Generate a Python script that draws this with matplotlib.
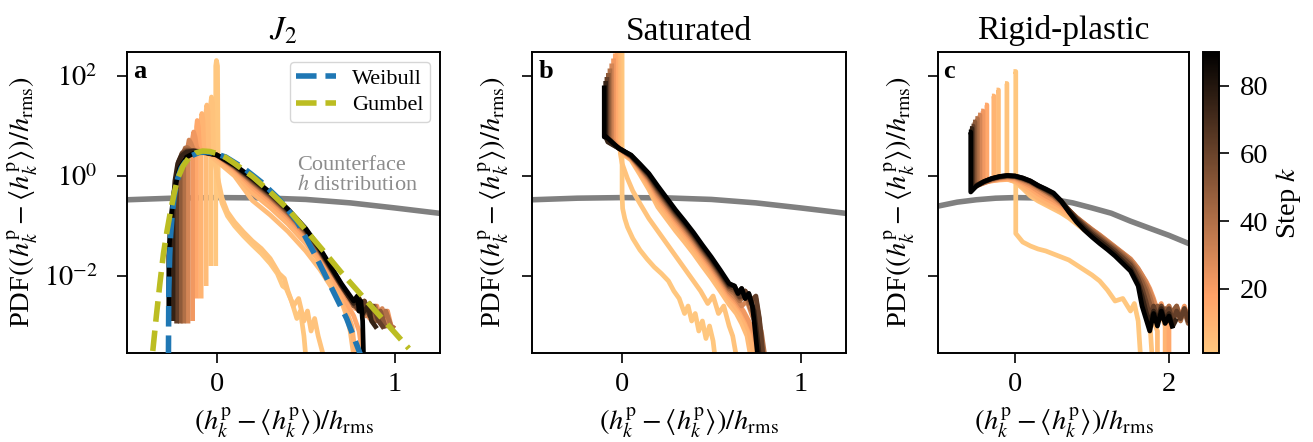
import numpy as np
import matplotlib
matplotlib.use("Agg")
import matplotlib.pyplot as plt
from matplotlib import colors as mcolors
from matplotlib.cm import ScalarMappable
from matplotlib.ticker import FixedLocator, NullLocator, FixedFormatter

plt.rcParams['font.family'] = ['Liberation Serif', 'DejaVu Serif']
plt.rcParams['mathtext.fontset'] = 'stix'

# ---------------- data (x in units of h_rms, y = log10 PDF) ----------------
STEP_MIN, STEP_MAX = 1, 90
titles = [r"$J_2$", "Saturated", "Rigid-plastic"]
panel_letters = ["a", "b", "c"]

counterface_x = [-1.0, -0.75, -0.5, -0.25, 0.0, 0.25, 0.5, 0.75, 1.0, 1.25, 1.5, 1.75, 2.0, 2.25]
counterface_pdf = [0.25, 0.30, 0.335, 0.36, 0.37, 0.365, 0.34, 0.29, 0.23, 0.18, 0.125, 0.09, 0.065, 0.045]

weibull_x = [-0.272, -0.27, -0.265, -0.26, -0.25, -0.24, -0.22, -0.2, -0.17, -0.14, -0.1, -0.06, -0.02,
             0.05, 0.15, 0.25, 0.35, 0.45, 0.55, 0.64, 0.73, 0.8, 0.81]
weibull_logpdf = [-3.6, -2.3, -1.6, -1.2, -0.75, -0.42, -0.05, 0.16, 0.32, 0.41, 0.47, 0.48, 0.46,
                  0.38, 0.16, -0.12, -0.46, -0.9, -1.56, -2.2, -2.85, -3.5, -3.6]
gumbel_x = [-0.36, -0.34, -0.32, -0.30, -0.28, -0.26, -0.24, -0.22, -0.19, -0.16, -0.12, -0.08, -0.04,
            0.0, 0.05, 0.1, 0.2, 0.3, 0.4, 0.5, 0.6, 0.7, 0.8, 0.9, 1.0, 1.08]
gumbel_logpdf = [-3.5, -2.8, -2.15, -1.55, -1.1, -0.7, -0.35, -0.05, 0.2, 0.35, 0.46, 0.5, 0.49,
                 0.45, 0.37, 0.25, -0.01, -0.32, -0.66, -1.08, -1.5, -1.93, -2.33, -2.73, -3.13, -3.45]

# ---- panel a (J2) ----
a_steps = [1, 3, 6, 10, 15, 22, 30, 40, 50, 62, 75, 90]
a_mid_x = [0.1, 0.2, 0.3, 0.4, 0.5, 0.58, 0.64, 0.7]
a01_x = [-0.006, -0.006, -0.002, 0.004, 0.008, 0.03, 0.06, 0.1, 0.15, 0.2, 0.25, 0.3, 0.34, 0.37, 0.39, 0.42, 0.45, 0.47, 0.49, 0.5]
a01_y = [-1.8, 2.2, 2.31, 2.2, -0.25, -0.55, -0.8, -1.0, -1.2, -1.38, -1.55, -1.75, -1.95, -2.2, -2.25, -2.5, -2.85, -2.7, -3.2, -3.6]
a03_x = [-0.034, -0.034, -0.03, -0.024, -0.02, -0.012, 0.0, 0.03, 0.06, 0.1, 0.15, 0.2, 0.25, 0.3, 0.35, 0.38, 0.4, 0.43, 0.46, 0.49, 0.51, 0.53, 0.55, 0.57, 0.6]
a03_y = [-1.8, 1.45, 1.58, 1.45, 0.5, 0.3, 0.05, -0.45, -0.72, -0.92, -1.12, -1.3, -1.45, -1.65, -1.95, -2.05, -2.3, -2.6, -2.45, -2.9, -2.7, -3.1, -2.85, -3.2, -3.6]
a06_x = [-0.06, -0.06, -0.056, -0.05, -0.046, -0.038, -0.02, 0.0] + a_mid_x + [0.73, 0.75, 0.77]
a06_y = [-2.2, 1.3, 1.42, 1.3, 0.55, 0.42, 0.36, 0.3, 0.0, -0.49, -0.78, -1.11, -1.5, -1.87, -2.2, -2.5, -2.8, -3.1, -3.6]
a10_x = [-0.088, -0.088, -0.084, -0.078, -0.074, -0.066, -0.03, 0.0] + a_mid_x + [0.73, 0.76, 0.78]
a10_y = [-2.45, 1.12, 1.25, 1.12, 0.6, 0.48, 0.42, 0.36, 0.07, -0.34, -0.63, -0.96, -1.35, -1.72, -2.05, -2.4, -2.7, -3.0, -3.6]
a15_x = [-0.114, -0.114, -0.11, -0.104, -0.098, -0.09, -0.05, 0.0] + a_mid_x + [0.74, 0.77, 0.8, 0.82]
a15_y = [-2.45, 0.98, 1.11, 0.98, 0.6, 0.5, 0.46, 0.4, 0.12, -0.24, -0.53, -0.86, -1.25, -1.62, -1.95, -2.3, -2.6, -2.8, -3.1, -3.6]
a22_x = [-0.136, -0.136, -0.13, -0.122, -0.114, -0.1, -0.06, 0.0] + a_mid_x + [0.74, 0.78, 0.82, 0.86, 0.9, 0.93, 0.96, 0.98, 1.0]
a22_y = [-2.9, 0.76, 0.88, 0.78, 0.58, 0.5, 0.47, 0.41, 0.15, -0.18, -0.47, -0.8, -1.19, -1.56, -1.9, -2.22, -2.45, -2.65, -2.55, -2.85, -2.6, -2.95, -2.7, -3.0, -3.05]
a30_x = [-0.162, -0.162, -0.156, -0.146, -0.134, -0.12, -0.08, 0.0] + a_mid_x + [0.74, 0.78, 0.81, 0.84, 0.87, 0.9, 0.93, 0.96, 0.99]
a30_y = [-2.95, 0.6, 0.72, 0.66, 0.55, 0.5, 0.48, 0.42, 0.17, -0.14, -0.43, -0.76, -1.15, -1.53, -1.87, -2.2, -2.45, -2.6, -2.5, -2.8, -2.6, -2.9, -2.65, -2.95, -3.05]
a40_x = [-0.186, -0.186, -0.178, -0.166, -0.15, -0.13, -0.1, 0.0] + a_mid_x + [0.74, 0.77, 0.8, 0.83, 0.86, 0.89, 0.92, 0.95, 0.98, 1.0]
a40_y = [-2.95, 0.42, 0.56, 0.57, 0.52, 0.49, 0.48, 0.42, 0.18, -0.12, -0.41, -0.74, -1.13, -1.52, -1.86, -2.2, -2.4, -2.55, -2.7, -2.5, -2.8, -2.6, -2.95, -2.7, -3.0, -3.05]
a50_x = [-0.206, -0.206, -0.196, -0.18, -0.16, -0.12, -0.06, 0.0] + a_mid_x + [0.74, 0.77, 0.8, 0.83, 0.86, 0.89, 0.92, 0.95]
a50_y = [-2.95, 0.25, 0.45, 0.52, 0.52, 0.5, 0.48, 0.42, 0.19, -0.1, -0.39, -0.72, -1.11, -1.5, -1.85, -2.2, -2.4, -2.6, -2.45, -2.75, -2.55, -2.9, -2.7, -3.05]
a62_x = [-0.226, -0.226, -0.214, -0.196, -0.17, -0.13, -0.08, 0.0] + a_mid_x + [0.74, 0.77, 0.8, 0.83, 0.86, 0.88, 0.91, 0.94]
a62_y = [-2.95, 0.0, 0.3, 0.45, 0.5, 0.5, 0.48, 0.42, 0.2, -0.08, -0.37, -0.7, -1.09, -1.49, -1.84, -2.19, -2.4, -2.55, -2.7, -2.5, -2.8, -2.6, -2.9, -3.05]
a75_x = [-0.246, -0.246, -0.236, -0.22, -0.2, -0.17, -0.13, -0.08, 0.0] + a_mid_x + [0.74, 0.77, 0.8, 0.82, 0.85, 0.87, 0.9]
a75_y = [-2.9, -0.6, -0.1, 0.25, 0.4, 0.48, 0.5, 0.48, 0.42, 0.21, -0.06, -0.35, -0.68, -1.07, -1.47, -1.82, -2.17, -2.4, -2.55, -2.45, -2.75, -2.6, -2.9, -3.05]
a90_x = [-0.27, -0.27, -0.26, -0.24, -0.21, -0.17, -0.12, -0.06, 0.0] + a_mid_x + [0.74, 0.77, 0.79, 0.80, 0.81, 0.82, 0.825]
a90_y = [-2.8, -1.6, -0.9, -0.3, 0.15, 0.38, 0.47, 0.47, 0.42, 0.22, -0.04, -0.33, -0.66, -1.05, -1.45, -1.8, -2.15, -2.35, -2.5, -2.4, -2.7, -2.5, -2.9, -3.6]

# ---- panel b (Saturated) ----
b_steps = [1, 3, 6, 10, 15, 22, 30, 40, 50, 62, 75, 90]
b_mid_x = [0.05, 0.1, 0.15, 0.2, 0.25, 0.3, 0.35, 0.4, 0.45, 0.5, 0.55, 0.6]
b01_x = [0.0, 0.0, 0.003, 0.015, 0.03, 0.06, 0.1, 0.14, 0.18, 0.22, 0.26, 0.29, 0.32, 0.35, 0.37, 0.39, 0.41, 0.43, 0.45, 0.47, 0.49, 0.51, 0.52]
b01_y = [2.6, -0.4, -0.65, -0.85, -1.02, -1.25, -1.48, -1.66, -1.82, -1.95, -2.1, -2.3, -2.45, -2.75, -2.6, -2.9, -2.75, -3.1, -2.9, -3.25, -3.0, -3.3, -3.6]
b03_x = [-0.01, -0.01, 0.0, 0.03, 0.06, 0.1, 0.15, 0.2, 0.25, 0.3, 0.35, 0.4, 0.44, 0.48, 0.51, 0.54, 0.57, 0.6, 0.62, 0.64]
b03_y = [2.6, 0.45, 0.25, -0.05, -0.3, -0.55, -0.85, -1.1, -1.35, -1.6, -1.85, -2.1, -2.3, -2.55, -2.4, -2.75, -2.6, -3.0, -3.2, -3.6]
b06_x = [-0.018, -0.018, -0.01, 0.0] + b_mid_x + [0.64, 0.67, 0.7, 0.72]
b06_y = [2.6, 0.6, 0.5, 0.45, 0.32, 0.03, -0.27, -0.62, -0.86, -1.1, -1.32, -1.55, -1.8, -2.04, -2.3, -2.57, -2.75, -2.95, -3.2, -3.6]
b10_x = [-0.028, -0.028, -0.015, 0.0] + b_mid_x + [0.64, 0.68, 0.71, 0.74]
b10_y = [2.6, 0.65, 0.55, 0.48, 0.34, 0.08, -0.19, -0.52, -0.76, -1.0, -1.22, -1.45, -1.7, -1.94, -2.2, -2.47, -2.65, -2.85, -3.1, -3.6]
b15_x = [-0.038, -0.038, -0.02, 0.0] + b_mid_x + [0.64, 0.68, 0.71, 0.74, 0.76]
b15_y = [2.45, 0.7, 0.58, 0.5, 0.36, 0.12, -0.14, -0.45, -0.69, -0.93, -1.15, -1.38, -1.63, -1.87, -2.13, -2.4, -2.55, -2.75, -2.95, -3.2, -3.6]
b22_x = [-0.048, -0.048, -0.03, 0.0] + b_mid_x + [0.64, 0.68, 0.71, 0.74, 0.77]
b22_y = [2.35, 0.72, 0.6, 0.5, 0.37, 0.14, -0.1, -0.4, -0.64, -0.88, -1.1, -1.33, -1.58, -1.82, -2.08, -2.35, -2.5, -2.7, -2.9, -3.15, -3.6]
b30_x = [-0.058, -0.058, -0.04, -0.01] + b_mid_x + [0.64, 0.67, 0.7, 0.73, 0.76, 0.78]
b30_y = [2.25, 0.74, 0.62, 0.53, 0.38, 0.16, -0.07, -0.36, -0.6, -0.84, -1.06, -1.29, -1.54, -1.78, -2.04, -2.31, -2.45, -2.6, -2.5, -2.8, -3.05, -3.6]
b40_x = [-0.068, -0.068, -0.05, -0.01] + b_mid_x + [0.63, 0.66, 0.69, 0.72, 0.75, 0.78, 0.8]
b40_y = [2.15, 0.76, 0.64, 0.54, 0.39, 0.18, -0.04, -0.32, -0.56, -0.8, -1.02, -1.25, -1.5, -1.74, -2.0, -2.27, -2.35, -2.5, -2.35, -2.65, -2.8, -3.1, -3.6]
b50_x = [-0.077, -0.077, -0.06, -0.015] + b_mid_x + [0.63, 0.66, 0.69, 0.72, 0.75, 0.77, 0.79]
b50_y = [2.06, 0.77, 0.66, 0.55, 0.4, 0.2, -0.02, -0.29, -0.53, -0.77, -0.99, -1.22, -1.47, -1.71, -1.97, -2.24, -2.3, -2.45, -2.3, -2.55, -2.45, -2.9, -3.6]
b62_x = [-0.085, -0.085, -0.07, -0.015] + b_mid_x + [0.63, 0.66, 0.69, 0.72, 0.75, 0.77, 0.79]
b62_y = [1.98, 0.78, 0.67, 0.55, 0.4, 0.21, 0.01, -0.26, -0.5, -0.74, -0.96, -1.19, -1.44, -1.68, -1.94, -2.21, -2.25, -2.42, -2.3, -2.5, -2.4, -2.85, -3.6]
b75_x = [-0.092, -0.092, -0.08, -0.017] + b_mid_x + [0.63, 0.65, 0.67, 0.69, 0.71, 0.74, 0.77]
b75_y = [1.9, 0.78, 0.68, 0.55, 0.41, 0.22, 0.03, -0.23, -0.47, -0.71, -0.93, -1.16, -1.41, -1.65, -1.91, -2.18, -2.2, -2.35, -2.25, -2.45, -2.35, -2.7, -3.6]
b90_x = [-0.1, -0.1, -0.088, -0.017] + b_mid_x + [0.63, 0.65, 0.67, 0.69, 0.71, 0.73, 0.74, 0.76]
b90_y = [1.81, 0.78, 0.78, 0.55, 0.42, 0.24, 0.05, -0.2, -0.44, -0.68, -0.9, -1.13, -1.38, -1.62, -1.88, -2.15, -2.2, -2.35, -2.25, -2.45, -2.35, -2.6, -2.9, -3.6]

# ---- panel c (Rigid-plastic) ----
c_steps = [1, 3, 6, 10, 15, 22, 30, 40, 50, 62, 75, 90]
c_mid_x = [0.1, 0.2, 0.3, 0.4, 0.5, 0.6, 0.7, 0.8, 0.9, 1.0, 1.1, 1.2, 1.3, 1.4, 1.5]
c_tail_long_x = [1.55, 1.6, 1.65, 1.7, 1.75, 1.8, 1.85, 1.9, 1.95, 2.0, 2.05, 2.1, 2.15, 2.2, 2.25, 2.3]

c01_x = [-0.02, 0.01, 0.01] + c_mid_x + [1.55, 1.6, 1.63]
c01_y = [2.09, 2.09, -1.15, -1.32, -1.4, -1.46, -1.5, -1.56, -1.62, -1.68, -1.78, -1.88, -1.98, -2.1, -2.28, -2.5, -2.45, -2.7, -2.55, -2.9, -3.6]
c03_x = [-0.13, -0.105, -0.105, 0.0] + c_mid_x + [1.55, 1.6, 1.65, 1.7, 1.75, 1.78]
c03_y = [1.85, 1.85, -0.05, -0.12, -0.25, -0.4, -0.5, -0.58, -0.66, -0.74, -0.84, -0.96, -1.08, -1.2, -1.32, -1.45, -1.58, -1.72, -1.86, -2.0, -2.15, -2.35, -2.6, -2.9, -3.6]
c06_x = [-0.24, -0.215, -0.215, -0.1, 0.0] + c_mid_x + [1.55, 1.6, 1.65, 1.7, 1.75, 1.8, 1.85, 1.85]
c06_y = [1.72, 1.72, -0.07, -0.06, -0.1, -0.22, -0.36, -0.46, -0.55, -0.62, -0.7, -0.8, -0.92, -1.05, -1.17, -1.29, -1.41, -1.54, -1.67, -1.8, -1.92, -2.05, -2.2, -2.4, -2.65, -2.9, -3.1, -3.6]
c10_x = [-0.30, -0.275, -0.275, -0.2, -0.1, 0.0] + c_mid_x + [1.55, 1.6, 1.65, 1.7, 1.75, 1.8, 1.85, 1.9, 1.95, 1.95]
c10_y = [1.6, 1.6, -0.09, -0.08, -0.07, -0.1, -0.2, -0.32, -0.44, -0.52, -0.6, -0.68, -0.78, -0.9, -1.02, -1.14, -1.26, -1.38, -1.5, -1.62, -1.75, -1.85, -1.97, -2.1, -2.25, -2.45, -2.7, -2.9, -2.75, -3.0, -3.6]
c15_x = [-0.39, -0.365, -0.365, -0.3, -0.2, -0.1, 0.0] + c_mid_x + [1.55, 1.6, 1.65, 1.7, 1.75, 1.8, 1.85, 1.9, 1.95, 2.0, 2.0]
c15_y = [1.42, 1.42, -0.11, -0.1, -0.07, -0.05, -0.07, -0.15, -0.25, -0.36, -0.45, -0.53, -0.62, -0.73, -0.85, -0.97, -1.09, -1.2, -1.32, -1.44, -1.56, -1.68, -1.78, -1.9, -2.02, -2.15, -2.3, -2.5, -2.75, -2.6, -2.9, -3.0, -3.6]
c22_x = [-0.44, -0.415, -0.415, -0.3, -0.2, -0.1, 0.0] + c_mid_x + c_tail_long_x
c22_y = [1.3, 1.3, -0.14, -0.09, -0.05, -0.03, -0.05, -0.12, -0.2, -0.3, -0.4, -0.48, -0.58, -0.7, -0.83, -0.95, -1.07, -1.18, -1.3, -1.42, -1.54, -1.66,
         -1.76, -1.86, -1.98, -2.1, -2.25, -2.45, -2.7, -2.55, -2.8, -2.6, -2.85, -2.65, -2.8, -2.6, -2.85, -2.7]
c30_x = [-0.48, -0.455, -0.455, -0.4, -0.3, -0.2, -0.1, 0.0] + c_mid_x + c_tail_long_x
c30_y = [1.22, 1.22, -0.17, -0.14, -0.08, -0.04, -0.02, -0.03, -0.09, -0.16, -0.25, -0.34, -0.43, -0.55, -0.69, -0.83, -0.95, -1.07, -1.18, -1.3, -1.42, -1.54, -1.66,
         -1.75, -1.85, -1.98, -2.12, -2.3, -2.5, -2.75, -2.6, -2.85, -2.65, -2.8, -2.6, -2.85, -2.7, -2.9, -2.75]
c40_x = [-0.515, -0.49, -0.49, -0.4, -0.3, -0.2, -0.1, 0.0] + c_mid_x + c_tail_long_x
c40_y = [1.15, 1.15, -0.19, -0.13, -0.07, -0.03, -0.01, -0.02, -0.07, -0.13, -0.22, -0.31, -0.4, -0.53, -0.68, -0.83, -0.96, -1.08, -1.2, -1.32, -1.44, -1.56, -1.7,
         -1.8, -1.92, -2.05, -2.2, -2.4, -2.65, -2.85, -2.6, -2.8, -2.6, -2.85, -2.7, -2.9, -2.65, -2.8, -2.7]
c50_x = [-0.545, -0.52, -0.52, -0.4, -0.3, -0.2, -0.1, 0.0] + c_mid_x + c_tail_long_x
c50_y = [1.08, 1.08, -0.22, -0.12, -0.06, -0.02, 0.0, -0.01, -0.06, -0.12, -0.21, -0.3, -0.39, -0.52, -0.68, -0.84, -0.98, -1.11, -1.23, -1.35, -1.47, -1.6, -1.74,
         -1.85, -1.98, -2.12, -2.3, -2.55, -2.8, -2.6, -2.85, -2.65, -2.9, -2.7, -2.6, -2.85, -2.7, -2.95, -2.8]
c62_x = [-0.565, -0.545, -0.545, -0.5, -0.4, -0.3, -0.2, -0.1, 0.0] + c_mid_x + c_tail_long_x
c62_y = [1.0, 1.0, -0.25, -0.18, -0.11, -0.05, -0.02, 0.0, -0.01, -0.05, -0.11, -0.2, -0.28, -0.37, -0.5, -0.68, -0.85, -1.0, -1.14, -1.26, -1.38, -1.5, -1.64, -1.78,
         -1.9, -2.05, -2.25, -2.5, -2.8, -2.6, -2.85, -2.6, -2.8, -2.65, -2.9, -2.7, -2.85, -2.65, -2.9, -2.75]
c75_x = [-0.585, -0.56, -0.56, -0.5, -0.4, -0.3, -0.2, -0.1, 0.0] + c_mid_x + [1.55, 1.6, 1.65, 1.7, 1.75, 1.8, 1.85, 1.9, 1.95, 2.0, 2.05, 2.1]
c75_y = [0.95, 0.95, -0.27, -0.19, -0.11, -0.05, -0.01, 0.01, 0.0, -0.04, -0.1, -0.19, -0.27, -0.35, -0.5, -0.7, -0.88, -1.04, -1.18, -1.3, -1.42, -1.55, -1.7, -1.85,
         -2.0, -2.15, -2.4, -2.7, -2.95, -2.7, -2.9, -2.65, -2.9, -2.75, -3.0, -2.85]
c90_x = [-0.60, -0.575, -0.575, -0.5, -0.4, -0.3, -0.2, -0.1, 0.0] + c_mid_x + [1.55, 1.6, 1.65, 1.7, 1.75, 1.8, 1.85, 1.9, 1.95, 2.0, 2.05]
c90_y = [0.88, 0.88, -0.32, -0.2, -0.11, -0.05, -0.01, 0.01, 0.0, -0.04, -0.1, -0.19, -0.26, -0.34, -0.5, -0.72, -0.92, -1.08, -1.22, -1.35, -1.47, -1.6, -1.75, -1.9,
         -2.05, -2.2, -2.6, -2.85, -3.1, -2.75, -3.0, -2.7, -2.95, -2.8, -3.05]

panel_curves = [
    (a_steps, [(a01_x, a01_y), (a03_x, a03_y), (a06_x, a06_y), (a10_x, a10_y), (a15_x, a15_y), (a22_x, a22_y),
               (a30_x, a30_y), (a40_x, a40_y), (a50_x, a50_y), (a62_x, a62_y), (a75_x, a75_y), (a90_x, a90_y)]),
    (b_steps, [(b01_x, b01_y), (b03_x, b03_y), (b06_x, b06_y), (b10_x, b10_y), (b15_x, b15_y), (b22_x, b22_y),
               (b30_x, b30_y), (b40_x, b40_y), (b50_x, b50_y), (b62_x, b62_y), (b75_x, b75_y), (b90_x, b90_y)]),
    (c_steps, [(c01_x, c01_y), (c03_x, c03_y), (c06_x, c06_y), (c10_x, c10_y), (c15_x, c15_y), (c22_x, c22_y),
               (c30_x, c30_y), (c40_x, c40_y), (c50_x, c50_y), (c62_x, c62_y), (c75_x, c75_y), (c90_x, c90_y)]),
]
xlims = [(-0.505, 1.255), (-0.505, 1.255), (-1.0, 2.26)]
xticks = [[0, 1], [0, 1], [0, 2]]

# ---------------- figure ----------------
W, H = 1313, 442
fig = plt.figure(figsize=(W / 100, H / 100), dpi=100)
ax_rects = [(127, 52, 440, 353), (532, 52, 846, 353), (938, 52, 1189, 353)]
cmap = plt.get_cmap('copper_r')
norm = mcolors.Normalize(vmin=STEP_MIN, vmax=STEP_MAX)

FS = 20.5
xlabel = r"$(h_k^\mathrm{p}-\langle h_k^\mathrm{p}\rangle)/h_\mathrm{rms}$"
ylabel = r"PDF$((h_k^\mathrm{p}-\langle h_k^\mathrm{p}\rangle)/h_\mathrm{rms})$"

for i, (x0, y0, x1, y1) in enumerate(ax_rects):
    ax = fig.add_axes([x0 / W, 1 - y1 / H, (x1 - x0) / W, (y1 - y0) / H])
    ax.set_yscale('log')
    ax.plot(counterface_x, counterface_pdf, color='#808080', lw=4, zorder=1)
    steps, curves = panel_curves[i]
    for k, (cx, cy) in zip(steps, curves):
        ax.plot(cx, 10 ** np.asarray(cy), color=cmap(norm(k)), lw=3.4, zorder=2,
                solid_joinstyle='round', solid_capstyle='butt')
    if i == 0:
        ax.plot(weibull_x, 10 ** np.asarray(weibull_logpdf), ls='--', color='#1f77b4', lw=4, zorder=3, label='Weibull')
        ax.plot(gumbel_x, 10 ** np.asarray(gumbel_logpdf), ls='--', color='#bcbd22', lw=4, zorder=4, label='Gumbel')
        ax.legend(loc='upper right', fontsize=16, framealpha=0.8, edgecolor='0.8',
                  handlelength=1.8, handletextpad=0.7, borderaxespad=0.45, borderpad=0.3,
                  labelspacing=0.25)
        ax.text(0.45, 1.0, "Counterface\n$h$ distribution", color='0.55', fontsize=16,
                ha='left', va='center', linespacing=1.0)
    ax.set_xlim(*xlims[i])
    ax.set_ylim(10 ** -3.54, 10 ** 2.48)
    ax.yaxis.set_major_locator(FixedLocator([1e-2, 1e0, 1e2]))
    ax.yaxis.set_minor_locator(NullLocator())
    ax.set_xticks(xticks[i])
    ax.set_xticklabels([str(t) for t in xticks[i]])
    ax.tick_params(direction='out', length=7, width=1.2, labelsize=FS)
    ax.tick_params(axis='x', pad=7)
    if i == 0:
        ax.yaxis.set_major_formatter(FixedFormatter([r"$10^{-2}$", r"$10^{0}$", r"$10^{2}$"]))
        ax.tick_params(axis='y', pad=14)
        ax.set_ylabel(ylabel, fontsize=FS, labelpad=3)
    else:
        ax.tick_params(axis='y', labelleft=False)
        ax.set_ylabel(ylabel, fontsize=FS, labelpad=8)
    for s in ax.spines.values():
        s.set_linewidth(1.4)
    ax.set_xlabel(xlabel, fontsize=FS, labelpad=6)
    ax.set_title(titles[i], fontsize=24, pad=9)
    ax.text(0.02, 0.975, panel_letters[i], transform=ax.transAxes, fontsize=19, fontweight='bold',
            ha='left', va='top')

cax = fig.add_axes([1203 / W, 1 - 353 / H, 16 / W, 301 / H])
sm = ScalarMappable(norm=norm, cmap=cmap)
cb = fig.colorbar(sm, cax=cax)
cb.set_ticks([20, 40, 60, 80])
cb.ax.tick_params(labelsize=FS, length=7, width=1.2, pad=8)
cb.outline.set_linewidth(1.4)
cb.set_label(r"Step $k$", fontsize=FS, labelpad=4)

fig.savefig("out.png", dpi=100)
